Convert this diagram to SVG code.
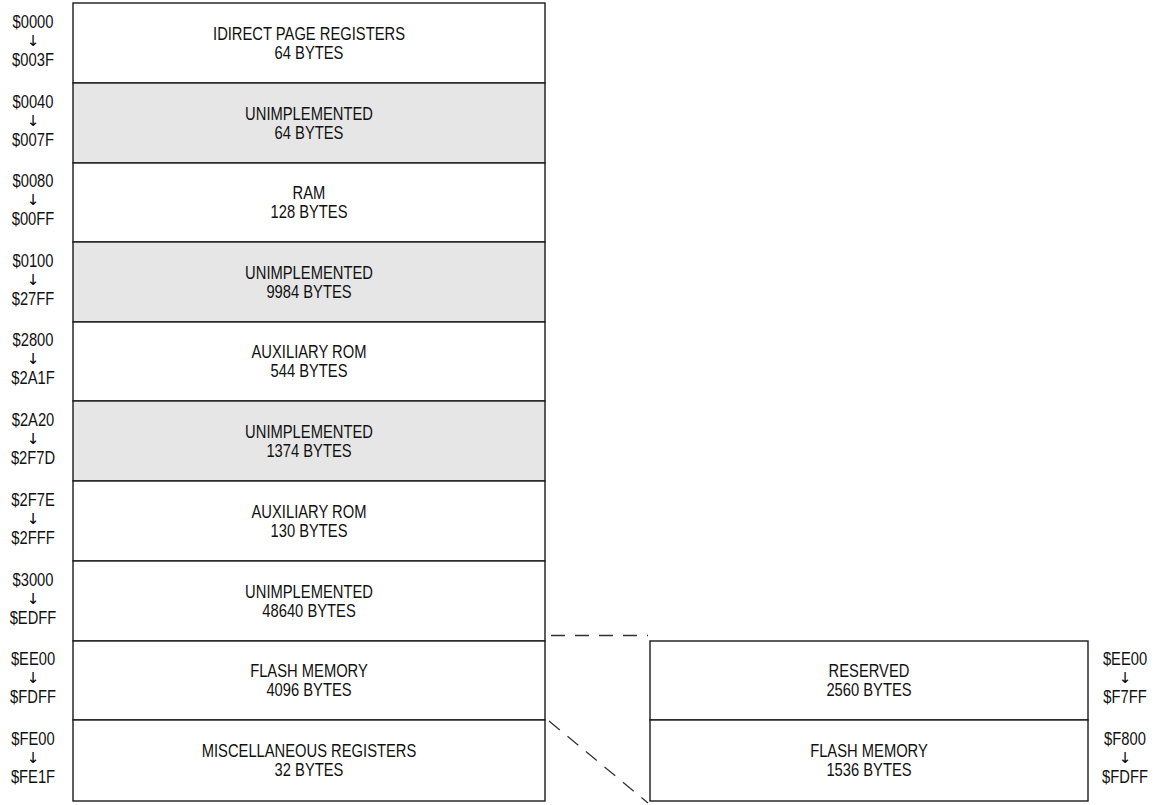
<svg xmlns="http://www.w3.org/2000/svg" width="1160" height="805" viewBox="0 0 1160 805">
<style>
.box{stroke:#1a1a1a;stroke-width:1.4;fill:#ffffff}
.gray{fill:#e6e6e6}
text{font-family:"Liberation Sans",Arial,sans-serif;font-size:18px;fill:#111;text-anchor:middle}
text.ar{font-family:"DejaVu Sans","Noto Sans",sans-serif;font-size:15px;fill:#000}
.conn{stroke:#333;stroke-width:1.3;fill:none;stroke-dasharray:14 10}
</style>
<rect width="1160" height="805" fill="#fff"/>
<g id="row1"><rect class="box" x="73" y="3" width="472" height="80"/>
<g transform="translate(309 0) scale(0.82 1)"><text y="40">IDIRECT PAGE REGISTERS</text><text y="59">64 BYTES</text></g>
<g transform="translate(33 0) scale(0.82 1)"><text y="28">$0000</text><text y="66">$003F</text></g><text class="ar" x="33" y="46">↓</text></g>
<g id="row2"><rect class="box gray" x="73" y="83" width="472" height="80"/>
<g transform="translate(309 0) scale(0.82 1)"><text y="120">UNIMPLEMENTED</text><text y="139">64 BYTES</text></g>
<g transform="translate(33 0) scale(0.82 1)"><text y="108">$0040</text><text y="146">$007F</text></g><text class="ar" x="33" y="126">↓</text></g>
<g id="row3"><rect class="box" x="73" y="163" width="472" height="79"/>
<g transform="translate(309 0) scale(0.82 1)"><text y="199">RAM</text><text y="218">128 BYTES</text></g>
<g transform="translate(33 0) scale(0.82 1)"><text y="187">$0080</text><text y="225">$00FF</text></g><text class="ar" x="33" y="205">↓</text></g>
<g id="row4"><rect class="box gray" x="73" y="242" width="472" height="80"/>
<g transform="translate(309 0) scale(0.82 1)"><text y="279">UNIMPLEMENTED</text><text y="298">9984 BYTES</text></g>
<g transform="translate(33 0) scale(0.82 1)"><text y="267">$0100</text><text y="305">$27FF</text></g><text class="ar" x="33" y="285">↓</text></g>
<g id="row5"><rect class="box" x="73" y="322" width="472" height="79"/>
<g transform="translate(309 0) scale(0.82 1)"><text y="358">AUXILIARY ROM</text><text y="377">544 BYTES</text></g>
<g transform="translate(33 0) scale(0.82 1)"><text y="346">$2800</text><text y="384">$2A1F</text></g><text class="ar" x="33" y="364">↓</text></g>
<g id="row6"><rect class="box gray" x="73" y="401" width="472" height="80"/>
<g transform="translate(309 0) scale(0.82 1)"><text y="438">UNIMPLEMENTED</text><text y="457">1374 BYTES</text></g>
<g transform="translate(33 0) scale(0.82 1)"><text y="426">$2A20</text><text y="464">$2F7D</text></g><text class="ar" x="33" y="444">↓</text></g>
<g id="row7"><rect class="box" x="73" y="481" width="472" height="80"/>
<g transform="translate(309 0) scale(0.82 1)"><text y="518">AUXILIARY ROM</text><text y="537">130 BYTES</text></g>
<g transform="translate(33 0) scale(0.82 1)"><text y="506">$2F7E</text><text y="544">$2FFF</text></g><text class="ar" x="33" y="524">↓</text></g>
<g id="row8"><rect class="box" x="73" y="561" width="472" height="80"/>
<g transform="translate(309 0) scale(0.82 1)"><text y="598">UNIMPLEMENTED</text><text y="617">48640 BYTES</text></g>
<g transform="translate(33 0) scale(0.82 1)"><text y="586">$3000</text><text y="624">$EDFF</text></g><text class="ar" x="33" y="604">↓</text></g>
<g id="row9"><rect class="box" x="73" y="641" width="472" height="79"/>
<g transform="translate(309 0) scale(0.82 1)"><text y="677">FLASH MEMORY</text><text y="696">4096 BYTES</text></g>
<g transform="translate(33 0) scale(0.82 1)"><text y="665">$EE00</text><text y="703">$FDFF</text></g><text class="ar" x="33" y="683">↓</text></g>
<g id="row10"><rect class="box" x="73" y="720" width="472" height="81"/>
<g transform="translate(309 0) scale(0.82 1)"><text y="757">MISCELLANEOUS REGISTERS</text><text y="776">32 BYTES</text></g>
<g transform="translate(33 0) scale(0.82 1)"><text y="745">$FE00</text><text y="783">$FE1F</text></g><text class="ar" x="33" y="763">↓</text></g>
<g id="reserved"><rect class="box" x="650" y="641" width="438" height="79"/>
<g transform="translate(869 0) scale(0.82 1)"><text y="677">RESERVED</text><text y="696">2560 BYTES</text></g>
<g transform="translate(1125 0) scale(0.82 1)"><text y="665">$EE00</text><text y="703">$F7FF</text></g><text class="ar" x="1125" y="683">↓</text></g>
<g id="flash2"><rect class="box" x="650" y="720" width="438" height="81"/>
<g transform="translate(869 0) scale(0.82 1)"><text y="757">FLASH MEMORY</text><text y="776">1536 BYTES</text></g>
<g transform="translate(1125 0) scale(0.82 1)"><text y="745">$F800</text><text y="783">$FDFF</text></g><text class="ar" x="1125" y="763">↓</text></g>
<g id="connectors">
<path class="conn" d="M551 635.5 H648"/>
<path class="conn" d="M549 721 L648 803"/>
</g>
</svg>
